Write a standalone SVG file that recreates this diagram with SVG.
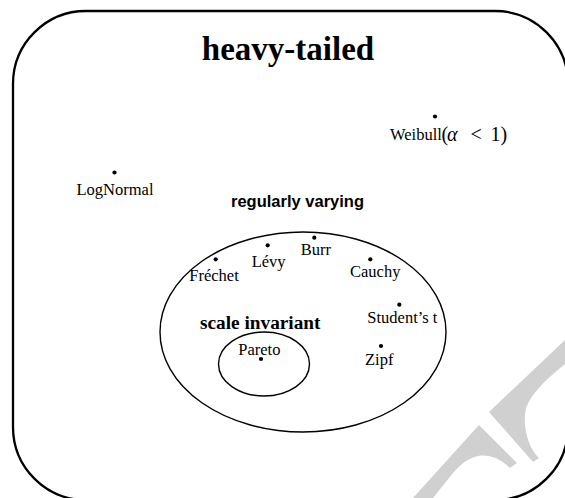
<svg xmlns="http://www.w3.org/2000/svg" width="565" height="498" viewBox="0 0 565 498">
<style>
.lbl{font-family:"Liberation Serif","Times New Roman",serif;font-size:16.5px;fill:#000}
.dot{fill:#000}
.set{fill:none;stroke:#000;stroke-width:1.4}
.wm{fill:#d0d0d0}
</style>
<rect width="565" height="498" fill="#fff"/>
<g id="watermark">
<path class="wm" d="M413,498 L479,425 L517,463 L510,468 C500,458 488,454 478,456 C468,458 460,465 453,473 L433,498 Z"/>
<path class="wm" d="M489,412 L565,340 L565,364 C548,378 532,392 526,408 C522,425 528,448 539,458 L533,462 Z"/>
</g>
<g id="heavy-tailed">
<rect x="13" y="11" width="555" height="489" rx="73" ry="73" fill="none" stroke="#000" stroke-width="2.3"/>
<text x="288" y="60" text-anchor="middle" font-family="Liberation Serif,Times New Roman,serif" font-weight="bold" font-size="33">heavy-tailed</text>
</g>
<g id="regularly-varying">
<ellipse class="set" cx="303" cy="332" rx="143" ry="100"/>
<text x="297.5" y="207" text-anchor="middle" font-family="Liberation Sans,Arial,sans-serif" font-weight="bold" font-size="16.5">regularly varying</text>
</g>
<g id="scale-invariant">
<ellipse class="set" cx="264" cy="364" rx="45.5" ry="32"/>
<text x="200" y="329" font-family="Liberation Serif,Times New Roman,serif" font-weight="bold" font-size="19.3">scale invariant</text>
</g>
<g id="weibull">
<circle class="dot" cx="435" cy="116.5" r="2.1"/>
<text class="lbl" x="390" y="140" font-size="16">Weibull</text>
<text font-family="Liberation Serif,Times New Roman,serif" font-size="20" y="141"><tspan x="441.5">(</tspan><tspan x="447" font-style="italic">α</tspan><tspan x="470.5">&lt;</tspan><tspan x="490.5">1</tspan><tspan x="500.5">)</tspan></text>
</g>
<g id="lognormal">
<circle class="dot" cx="114.5" cy="172.5" r="2.1"/>
<text class="lbl" x="76.5" y="195">LogNormal</text>
</g>
<g id="frechet">
<circle class="dot" cx="215.7" cy="259.3" r="2.1"/>
<text class="lbl" x="189.3" y="281">Fréchet</text>
</g>
<g id="levy">
<circle class="dot" cx="267.7" cy="245.3" r="2.1"/>
<text class="lbl" x="251.7" y="267.3">Lévy</text>
</g>
<g id="burr">
<circle class="dot" cx="314.3" cy="237.7" r="2.1"/>
<text class="lbl" x="300.7" y="255">Burr</text>
</g>
<g id="cauchy">
<circle class="dot" cx="370.3" cy="259.3" r="2.1"/>
<text class="lbl" x="350" y="276.7">Cauchy</text>
</g>
<g id="students-t">
<circle class="dot" cx="399.3" cy="304.7" r="2.1"/>
<text class="lbl" x="367.3" y="322.7">Student’s t</text>
</g>
<g id="zipf">
<circle class="dot" cx="381" cy="346" r="2.1"/>
<text class="lbl" x="365" y="365">Zipf</text>
</g>
<g id="pareto">
<circle class="dot" cx="261" cy="359" r="2.1"/>
<text class="lbl" x="238.3" y="355">Pareto</text>
</g>
<g id="connectors"/>
</svg>
